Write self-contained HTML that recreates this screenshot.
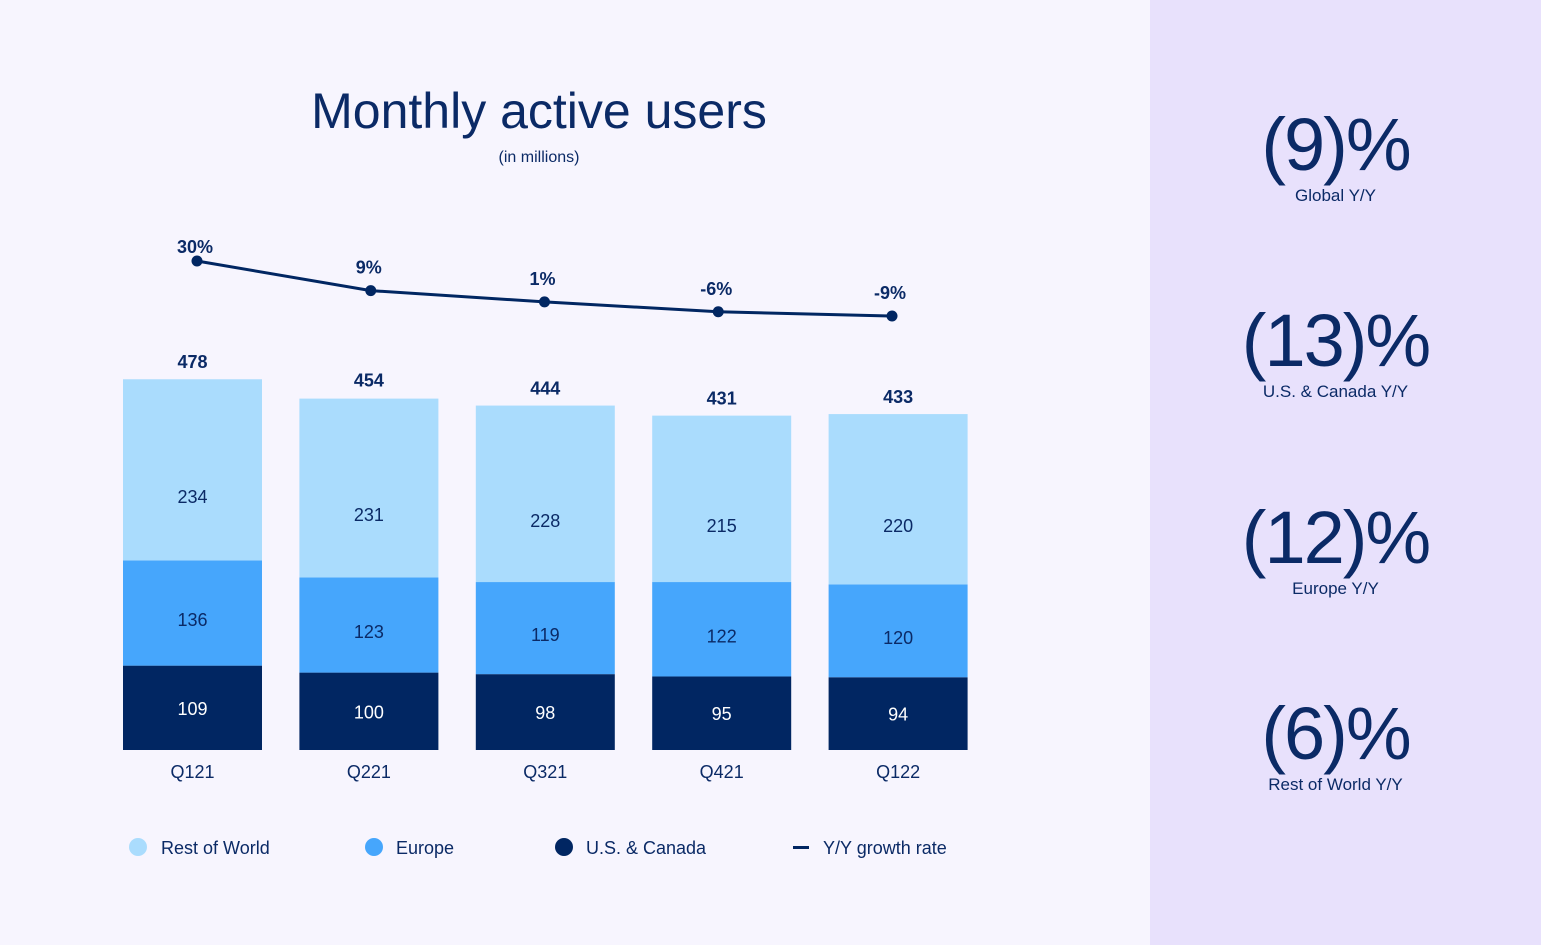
<!DOCTYPE html>
<html><head><meta charset="utf-8"><style>
body{margin:0;width:1541px;height:945px;overflow:hidden;background:#f7f5fe;font-family:"Liberation Sans",sans-serif;}
#side{position:absolute;left:1150px;top:0;width:391px;height:945px;background:#e8e1fc;}
.stat{position:absolute;left:0;width:371px;text-align:center;color:#0b2a66;}
.big{font-size:74px;line-height:74px;letter-spacing:-2px;}
.lab{font-size:17px;margin-top:4px;}
</style></head><body>
<svg id="chart" width="1150" height="945" style="position:absolute;left:0;top:0">
<text x="539" y="128" text-anchor="middle" font-size="50" fill="#0b2a66">Monthly active users</text>
<text x="539" y="162" text-anchor="middle" font-size="16" fill="#0b2a66">(in millions)</text>
<g id="bars"></g><g id="line"></g>
<g font-size="18" fill="#0b2a66">
<circle cx="138" cy="847" r="9" fill="#aadcfd"/>
<text x="161" y="854">Rest of World</text>
<circle cx="374" cy="847" r="9" fill="#46a6fc"/>
<text x="396" y="854">Europe</text>
<circle cx="564" cy="847" r="9" fill="#012662"/>
<text x="586" y="854">U.S. &amp; Canada</text>
<rect x="793" y="846" width="16" height="3" fill="#012662"/>
<text x="823" y="854">Y/Y growth rate</text>
</g>
</svg>
<div id="side">
<div class="stat" style="top:108px"><div class="big">(9)%</div><div class="lab">Global Y/Y</div></div>
<div class="stat" style="top:304px"><div class="big">(13)%</div><div class="lab">U.S. &amp; Canada Y/Y</div></div>
<div class="stat" style="top:501px"><div class="big">(12)%</div><div class="lab">Europe Y/Y</div></div>
<div class="stat" style="top:697px"><div class="big">(6)%</div><div class="lab">Rest of World Y/Y</div></div>
</div>
<script>
const categories=["Q121","Q221","Q321","Q421","Q122"];
const usCanada=[109,100,98,95,94];
const europe=[136,123,119,122,120];
const restOfWorld=[234,231,228,215,220];
const totals=[478,454,444,431,433];
const growth=[30,9,1,-6,-9];
const growthLabels=["30%","9%","1%","-6%","-9%"];
const NS="http://www.w3.org/2000/svg";
const base=750,k=0.774,bw=139;
const xb=i=>123+i*176.4;
const yv=v=>base-v*k;
const xl=i=>197+i*173.75;
const yg=g=>261+(30-g)*1.41;
function mk(t,a,p){const e=document.createElementNS(NS,t);for(const n in a)e.setAttribute(n,a[n]);p.appendChild(e);return e;}
const bars=document.getElementById('bars');
categories.forEach((c,i)=>{
 const segs=[[usCanada[i],"#012662","#fff","us-canada",0],[europe[i],"#46a6fc","#0b2a66","europe",6],[restOfWorld[i],"#aadcfd","#0b2a66","rest-of-world",26]];
 let cum=0;
 segs.forEach(s=>{
  const y0=yv(cum),y1=yv(cum+s[0]);
  const r=mk('rect',{x:xb(i),y:y1,width:bw,height:y0-y1,fill:s[1]},bars);
  
  
  const t=mk('text',{x:xb(i)+bw/2,y:(y0+y1)/2+7+s[4],'text-anchor':'middle','font-size':18,fill:s[2]},bars);
  t.textContent=s[0];
  
  
  cum+=s[0];
 });
 const tt=mk('text',{x:xb(i)+bw/2,y:yv(totals[i])-12,'text-anchor':'middle','font-size':18,'font-weight':'bold',fill:'#0b2a66'},bars);
 tt.textContent=totals[i];
 
 
 const xt=mk('text',{x:xb(i)+bw/2,y:778,'text-anchor':'middle','font-size':18,fill:'#0b2a66'},bars);
 xt.textContent=c;
 
 
});
const lg=document.getElementById('line');
const pl=mk('polyline',{points:growth.map((g,i)=>xl(i)+','+yg(g)).join(' '),fill:'none',stroke:'#012662','stroke-width':3},lg);


growth.forEach((g,i)=>{
 const c=mk('circle',{cx:xl(i),cy:yg(g),r:5.5,fill:'#012662'},lg);
 
 
 const t=mk('text',{x:xl(i)-2,y:yg(g)-(i===0?8:17),'text-anchor':'middle','font-size':18,'font-weight':'bold',fill:'#0b2a66'},lg);
 t.textContent=growthLabels[i];
 
 
});
</script>
</body></html>
